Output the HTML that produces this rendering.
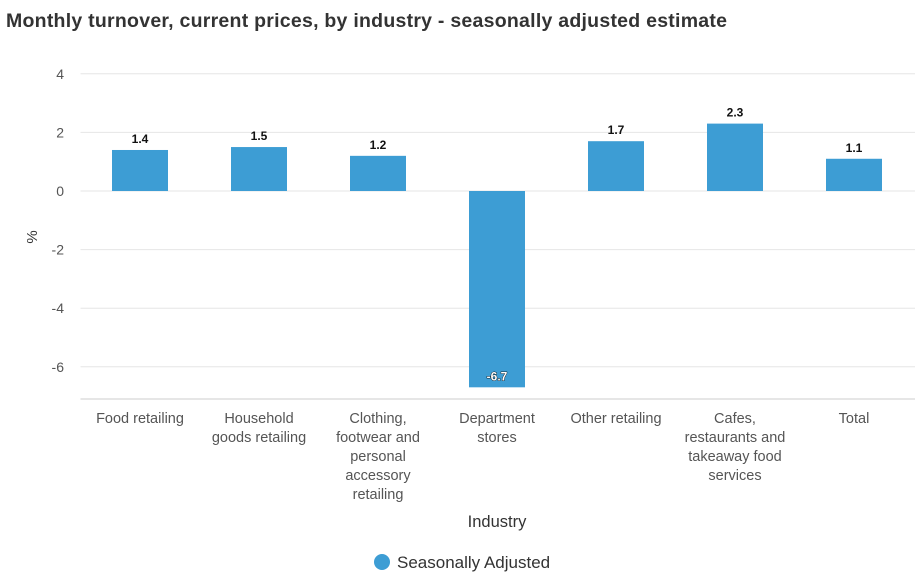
<!DOCTYPE html>
<html><head><meta charset="utf-8"><style>
body{margin:0;background:#fff;font-family:"Liberation Sans",sans-serif;}
svg text{font-family:"Liberation Sans",sans-serif;}
</style></head><body>
<svg id="chart" width="915" height="582">
<text x="6" y="27" font-size="19.5" font-weight="bold" fill="#333" textLength="721">Monthly turnover, current prices, by industry - seasonally adjusted estimate</text>
<g id="grid"></g><g id="bars"></g><g id="xl"></g>
<text transform="translate(37,237) rotate(-90)" text-anchor="middle" font-size="15" fill="#333">%</text>
<text x="497" y="527" text-anchor="middle" font-size="16.5" fill="#333">Industry</text>
<g><circle cx="382" cy="562" r="8" fill="#3d9dd4"/><text x="397" y="568" font-size="17" fill="#333">Seasonally Adjusted</text></g>
</svg>
<script>
const categories=[["Food retailing"],["Household","goods retailing"],["Clothing,","footwear and","personal","accessory","retailing"],["Department","stores"],["Other retailing"],["Cafes,","restaurants and","takeaway food","services"],["Total"]];
const values=[1.4,1.5,1.2,-6.7,1.7,2.3,1.1];
const yTicks=[4,2,0,-2,-4,-6];
const NS="http://www.w3.org/2000/svg";
const x0=80.5,bw=119,y=v=>191-v*29.3;
function mk(t,a,p){const e=document.createElementNS(NS,t);for(const k in a)e.setAttribute(k,a[k]);p.appendChild(e);return e;}
const g=document.getElementById('grid'),b=document.getElementById('bars'),xl=document.getElementById('xl');
yTicks.forEach(t=>{const l=mk('line',{x1:x0,x2:915,y1:y(t),y2:y(t),stroke:'#e6e6e6'},g);


const tx=mk('text',{x:64,y:y(t)+5,'text-anchor':'end','font-size':14,fill:'#555'},g);tx.textContent=t;

});
const ax=mk('line',{x1:x0,x2:915,y1:399,y2:399,stroke:'#ccc'},g);


values.forEach((v,i)=>{const cx=x0+bw*(i+0.5);const top=Math.min(y(v),y(0)),h=Math.abs(y(v)-y(0));
const r=mk('rect',{x:cx-28,y:top,width:56,height:h,fill:'#3d9dd4'},b);


const lt=mk('text',{x:cx,y:v>=0?top-7:y(v)-7,'text-anchor':'middle','font-size':12,'font-weight':'bold',fill:v>=0?'#111':'#fff',stroke:v>=0?'none':'#000','stroke-width':v>=0?0:0.8,'paint-order':'stroke'},b);lt.textContent=v;


categories[i].forEach((s,j)=>{const t=mk('text',{x:cx,y:423+j*19,'text-anchor':'middle','font-size':14.5,fill:'#555'},xl);t.textContent=s;

});});
</script>
</body></html>
